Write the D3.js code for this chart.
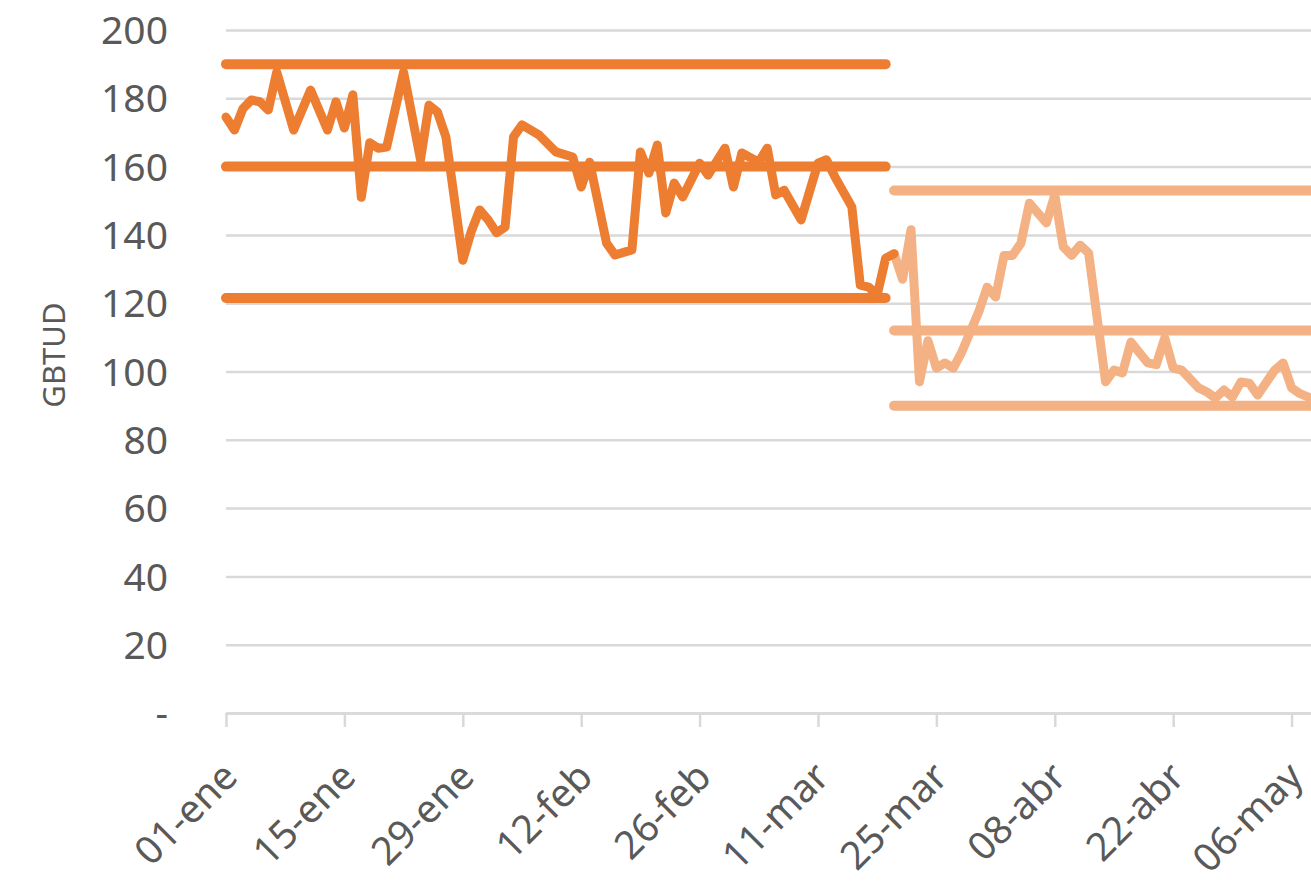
<!DOCTYPE html>
<html>
<head>
<meta charset="utf-8">
<script src="https://cdn.jsdelivr.net/npm/d3@7"></script>
<style>
body{margin:0;background:#fff;}
svg text{font-family:"Noto Sans","Open Sans",sans-serif;fill:#595959;}
</style>
</head>
<body>
<svg width="1311" height="885"></svg>
<script>
// first period (dark orange)
var dates1 = ["2020-01-01","2020-01-02","2020-01-03","2020-01-04","2020-01-05","2020-01-06","2020-01-07","2020-01-09","2020-01-11","2020-01-13","2020-01-14","2020-01-15","2020-01-16","2020-01-17","2020-01-18","2020-01-19","2020-01-20","2020-01-22","2020-01-24","2020-01-25","2020-01-26","2020-01-27","2020-01-29","2020-01-30","2020-01-31","2020-02-01","2020-02-02","2020-02-03","2020-02-04","2020-02-05","2020-02-07","2020-02-09","2020-02-11","2020-02-12","2020-02-13","2020-02-15","2020-02-16","2020-02-18","2020-02-19","2020-02-20","2020-02-21","2020-02-22","2020-02-23","2020-02-24","2020-02-26","2020-02-27","2020-02-29","2020-03-01","2020-03-02","2020-03-04","2020-03-05","2020-03-06","2020-03-07","2020-03-09","2020-03-11","2020-03-12","2020-03-13","2020-03-15","2020-03-16","2020-03-17","2020-03-18","2020-03-19","2020-03-20"];
var values1 = [174.5,170.7,177,179.5,179,176.6,187.7,170.7,182.4,170.7,179,171.3,181,151,167,165.4,165.7,187.7,162,178,176,168.7,132.6,141,147.3,144.4,140.6,142.3,168.7,172.2,169.3,164.3,162.8,154,161.3,137.6,134.1,135.6,164.3,158.1,166.3,146.4,155.2,151.1,161,157.5,165.4,154,164,161.3,165.4,151.7,153.1,144.4,161,162,157,148.2,125.3,124.7,122.4,133.2,134.5];

// second period (light orange)
var dates2 = ["2020-03-20","2020-03-21","2020-03-22","2020-03-23","2020-03-24","2020-03-25","2020-03-26","2020-03-27","2020-03-28","2020-03-30","2020-03-31","2020-04-01","2020-04-02","2020-04-03","2020-04-04","2020-04-05","2020-04-07","2020-04-08","2020-04-09","2020-04-10","2020-04-11","2020-04-12","2020-04-14","2020-04-15","2020-04-16","2020-04-17","2020-04-19","2020-04-20","2020-04-21","2020-04-22","2020-04-23","2020-04-25","2020-04-26","2020-04-27","2020-04-28","2020-04-29","2020-04-30","2020-05-01","2020-05-02","2020-05-04","2020-05-05","2020-05-06","2020-05-07","2020-05-08","2020-05-09"];
var values2 = [134.5,127,141.5,97,109,101,102.5,101,105.7,117.4,124.7,121.8,134,134,137.6,149.3,143.5,151.7,136.5,134,137,134.7,97,100.4,99.6,108.6,102.5,102,109.8,101,100.4,95.2,94,92.2,94.6,92.5,96.9,96.6,93.1,100.4,102.5,95.2,93.5,92.5,91];

// band levels for each period
var bands1 = [190,160,121.5];
var bands1Span = ["2020-01-01","2020-03-19"];
var bands2 = [153,112,90];
var bands2Span = ["2020-03-20","2020-05-31"];

var yTicks = [0,20,40,60,80,100,120,140,160,180,200];
var xTicks = ["2020-01-01","2020-01-15","2020-01-29","2020-02-12","2020-02-26","2020-03-11","2020-03-25","2020-04-08","2020-04-22","2020-05-06"];
var monthNames = ["ene","feb","mar","abr","may","jun"];

var parse = d3.utcParse("%Y-%m-%d");
var svg = d3.select("svg");

var x = d3.scaleUtc()
    .domain([parse("2020-01-01"), parse("2020-05-10")])
    .range([226, 226 + 130*8.457]);
var y = d3.scaleLinear().domain([0,200]).range([713,30]);

// gridlines + y labels
var gy = svg.append("g").attr("transform","translate(226,0)")
    .call(d3.axisLeft(y).tickValues(yTicks).tickSize(-1100).tickPadding(58)
        .tickFormat(function(d){ return d===0 ? "-" : d; }));
gy.select(".domain").remove();
gy.selectAll(".tick line").attr("stroke","#d9d9d9").attr("stroke-width",2.5);
gy.selectAll(".tick text").attr("font-size","39px").attr("dy","0.35em");

// x axis
var gx = svg.append("g").attr("transform","translate(0,713)")
    .call(d3.axisBottom(x).tickValues(xTicks.map(parse)).tickSize(14).tickSizeOuter(0)
        .tickFormat(function(d){ return d3.utcFormat("%d")(d) + "-" + monthNames[d.getUTCMonth()]; }));
gx.select(".domain").attr("stroke","#d9d9d9").attr("stroke-width",2.5);
gx.selectAll(".tick line").attr("stroke","#d9d9d9").attr("stroke-width",2.5);
gx.selectAll(".tick text")
    .attr("font-size","39px")
    .attr("y",0).attr("dy",0)
    .attr("text-anchor","end")
    .attr("transform","translate(13,66) rotate(-45)");

svg.append("text")
    .attr("transform","translate(65,355) rotate(-90)")
    .attr("text-anchor","middle")
    .attr("font-size","31px")
    .text("GBTUD");

// horizontal band lines
function drawBands(levels, span, color){
    svg.selectAll(null).data(levels).enter().append("line")
        .attr("x1", x(parse(span[0])))
        .attr("x2", x(parse(span[1])))
        .attr("y1", function(d){ return y(d); })
        .attr("y2", function(d){ return y(d); })
        .attr("stroke", color)
        .attr("stroke-width", 10)
        .attr("stroke-linecap","round");
}
drawBands(bands1, bands1Span, "#ED7D31");
drawBands(bands2, bands2Span, "#F4B183");

var line = d3.line()
    .x(function(d){ return x(d[0]); })
    .y(function(d){ return y(d[1]); });

function drawSeries(dates, vals, color){
    var pts = dates.map(function(d,i){ return [parse(d), vals[i]]; });
    svg.append("path").datum(pts)
        .attr("d", line)
        .attr("fill","none")
        .attr("stroke", color)
        .attr("stroke-width", 9)
        .attr("stroke-linejoin","round")
        .attr("stroke-linecap","round");
}
drawSeries(dates2, values2, "#F4B183");
drawSeries(dates1, values1, "#ED7D31");
</script>
</body>
</html>
